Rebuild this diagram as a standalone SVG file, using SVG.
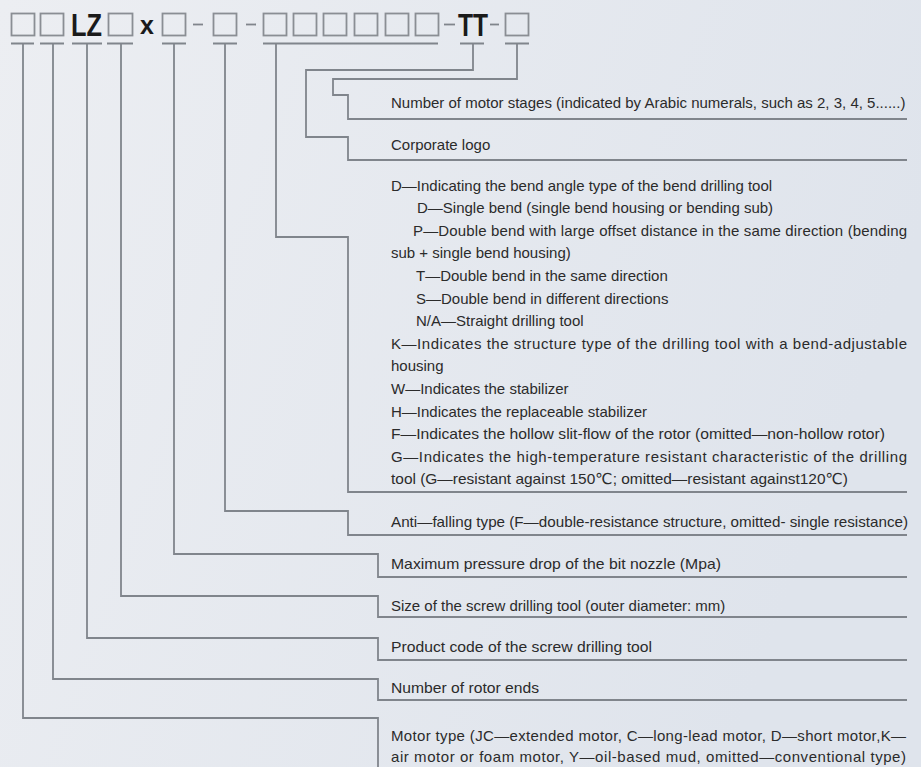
<svg xmlns="http://www.w3.org/2000/svg" width="921" height="767" viewBox="0 0 921 767">
<defs>
<linearGradient id="bg" x1="0" y1="0" x2="1" y2="0.3">
<stop offset="0" stop-color="#eceef2"/>
<stop offset="1" stop-color="#dfe4ec"/>
</linearGradient>
</defs>
<style>
.ln{fill:none;stroke:#80858c;stroke-width:1.8}
.bx{fill:none;stroke:#8a8e94;stroke-width:1.8}
.tk{stroke:#80858c;stroke-width:1.8}
.big{font-family:"Liberation Sans",Arial,sans-serif;font-weight:bold;fill:#1a1a1a}
.t{font-family:"Liberation Sans","DejaVu Sans",Arial,sans-serif;font-size:15px;fill:#2b2b2b}
</style>
<rect width="921" height="767" fill="url(#bg)"/>
<g id="code">
<rect class="bx" x="11.5" y="13.5" width="23" height="22"/>
<rect class="bx" x="40.5" y="13.5" width="23" height="22"/>
<text class="big" x="71" y="36" font-size="32" textLength="31" lengthAdjust="spacingAndGlyphs">LZ</text>
<rect class="bx" x="108.5" y="13.5" width="24" height="22"/>
<text class="big" x="140" y="33.5" font-size="25">x</text>
<rect class="bx" x="162.5" y="13.5" width="23" height="22"/>
<line class="tk" x1="193" y1="24.5" x2="203" y2="24.5"/>
<rect class="bx" x="213.5" y="13.5" width="23" height="22"/>
<line class="tk" x1="246" y1="24.5" x2="256" y2="24.5"/>
<rect class="bx" x="263.5" y="13.5" width="23" height="22"/>
<rect class="bx" x="293.5" y="13.5" width="23" height="22"/>
<rect class="bx" x="323.5" y="13.5" width="23" height="22"/>
<rect class="bx" x="354.5" y="13.5" width="23" height="22"/>
<rect class="bx" x="385.5" y="13.5" width="23" height="22"/>
<rect class="bx" x="415.5" y="13.5" width="23" height="22"/>
<line class="tk" x1="444" y1="24.5" x2="455" y2="24.5"/>
<text class="big" x="458" y="36" font-size="32" textLength="30" lengthAdjust="spacingAndGlyphs">TT</text>
<line class="tk" x1="490" y1="24.5" x2="499" y2="24.5"/>
<rect class="bx" x="505.5" y="13.5" width="23" height="22"/>
</g>
<g id="connectors">
<path class="tk" d="M11 43.5H34M40 43.5H64M72 43.5H102M107 43.5H133M162 43.5H186M213 43.5H237M263 43.5H438M460 43.5H484M505 43.5H529"/>
<path class="ln" d="M23 43V718H378V767"/>
<path class="ln" d="M53 43V679H378V700H907"/>
<path class="ln" d="M87 43V638H378V660H907"/>
<path class="ln" d="M121 43V596H378V617H907"/>
<path class="ln" d="M174 43V554H378V577H907"/>
<path class="ln" d="M225 43V511H348V535H907"/>
<path class="ln" d="M276 43V237H348V492H907"/>
<path class="ln" d="M473 43V70H306V137H348V160H907"/>
<path class="ln" d="M517 43V79H333V95H348V119H907"/>
</g>
<g id="motor-stages"><text class="t" x="391" y="108">Number of motor stages (indicated by Arabic numerals, such as 2, 3, 4, 5......)</text></g>
<g id="corporate-logo"><text class="t" x="391" y="150">Corporate logo</text></g>
<g id="bend-type">
<text class="t" x="391" y="190.5">D—Indicating the bend angle type of the bend drilling tool</text>
<text class="t" x="417" y="213">D—Single bend (single bend housing or bending sub)</text>
<text class="t" x="413" y="235.7" textLength="494" lengthAdjust="spacing">P—Double bend with large offset distance in the same direction (bending</text>
<text class="t" x="391" y="258.3">sub + single bend housing)</text>
<text class="t" x="416" y="280.9">T—Double bend in the same direction</text>
<text class="t" x="416" y="303.5">S—Double bend in different directions</text>
<text class="t" x="416" y="326">N/A—Straight drilling tool</text>
<text class="t" x="391" y="348.7" textLength="516" lengthAdjust="spacing">K—Indicates the structure type of the drilling tool with a bend-adjustable</text>
<text class="t" x="391" y="371.3">housing</text>
<text class="t" x="391" y="393.9">W—Indicates the stabilizer</text>
<text class="t" x="391" y="416.5">H—Indicates the replaceable stabilizer</text>
<text class="t" x="391" y="439" textLength="494" lengthAdjust="spacingAndGlyphs">F—Indicates the hollow slit-flow of the rotor (omitted—non-hollow rotor)</text>
<text class="t" x="391" y="461.7" textLength="516" lengthAdjust="spacing">G—Indicates the high-temperature resistant characteristic of the drilling</text>
<text class="t" x="391" y="484.3" textLength="457" lengthAdjust="spacingAndGlyphs">tool (G—resistant against 150℃; omitted—resistant against120℃)</text>
</g>
<g id="anti-falling"><text class="t" x="391" y="527" textLength="517" lengthAdjust="spacingAndGlyphs">Anti—falling type (F—double-resistance structure, omitted- single resistance)</text></g>
<g id="pressure-drop"><text class="t" x="391" y="569" textLength="330" lengthAdjust="spacingAndGlyphs">Maximum pressure drop of the bit nozzle (Mpa)</text></g>
<g id="size"><text class="t" x="391" y="611">Size of the screw drilling tool (outer diameter: mm)</text></g>
<g id="product-code"><text class="t" x="391" y="652" textLength="261" lengthAdjust="spacingAndGlyphs">Product code of the screw drilling tool</text></g>
<g id="rotor-ends"><text class="t" x="391" y="693" textLength="148" lengthAdjust="spacingAndGlyphs">Number of rotor ends</text></g>
<g id="motor-type">
<text class="t" x="391" y="741" textLength="515" lengthAdjust="spacing">Motor type (JC—extended motor, C—long-lead motor, D—short motor,K—</text>
<text class="t" x="391" y="762" textLength="515" lengthAdjust="spacing">air motor or foam motor, Y—oil-based mud, omitted—conventional type)</text>
</g>
</svg>
